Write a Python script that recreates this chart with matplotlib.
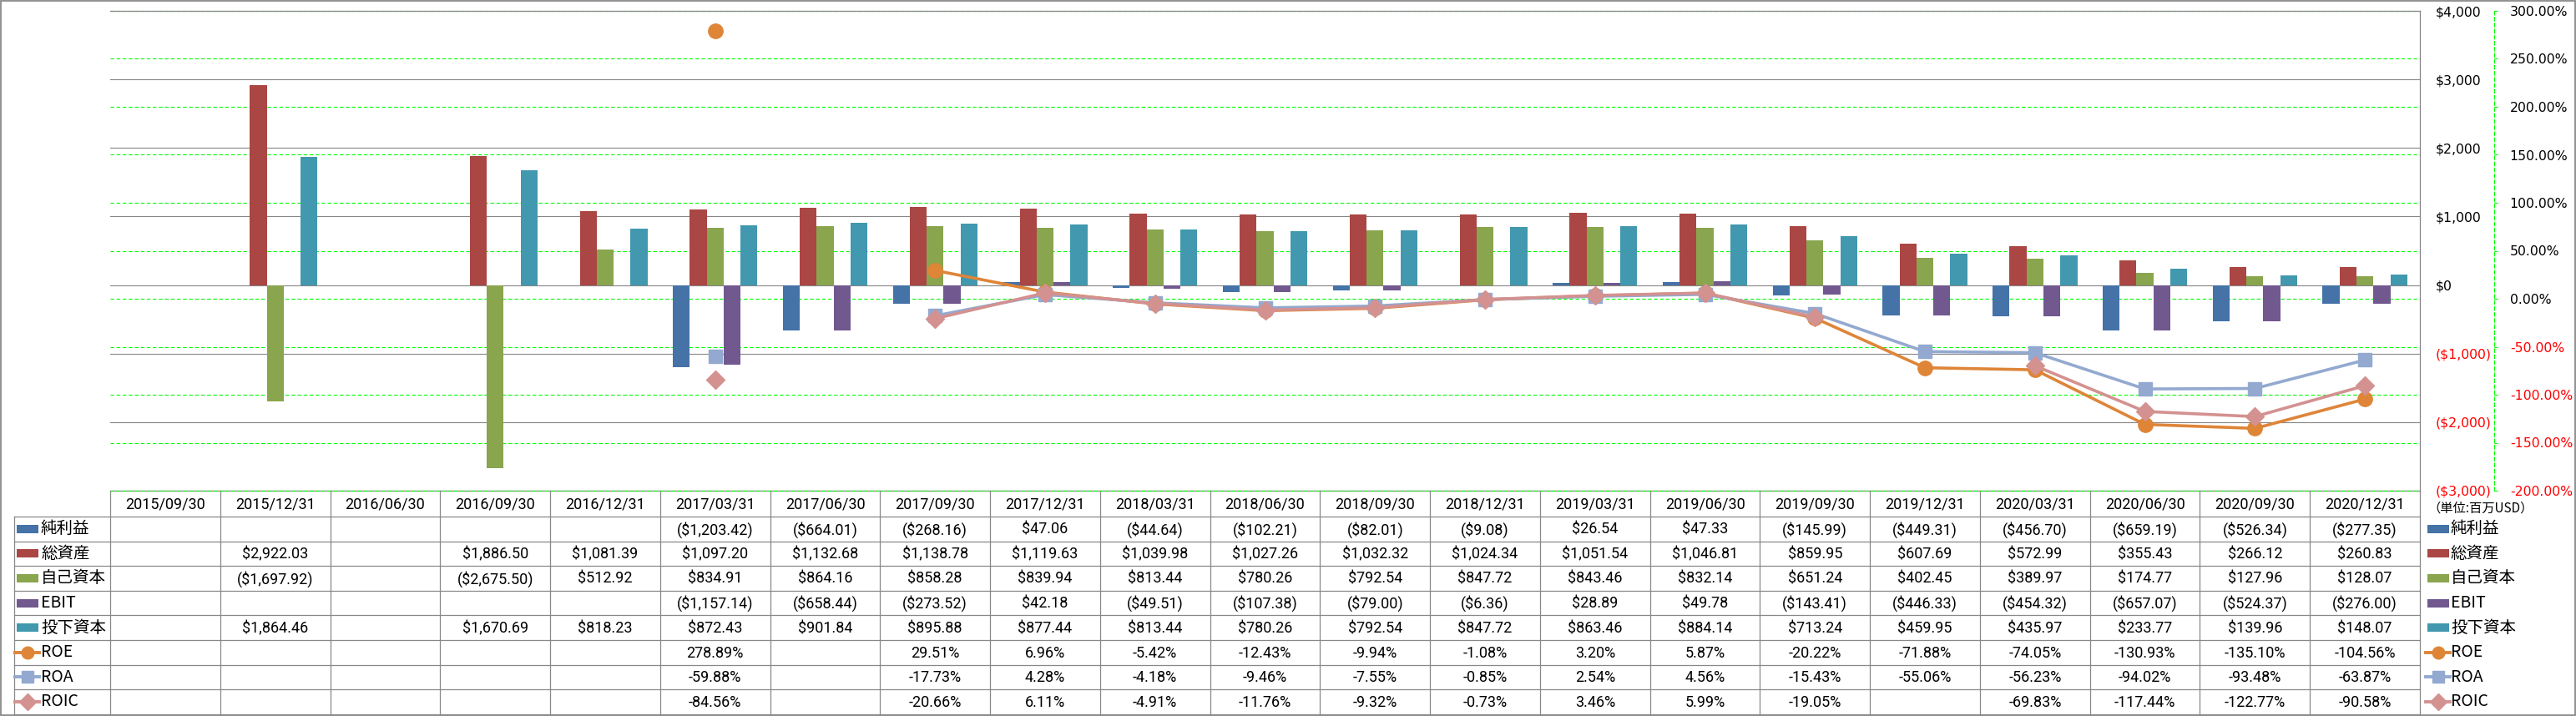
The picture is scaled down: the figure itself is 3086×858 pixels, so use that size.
import numpy as np
import matplotlib
matplotlib.use('Agg')
import matplotlib.pyplot as plt
from matplotlib.patches import Rectangle
from matplotlib.lines import Line2D

nan = np.nan

# ---------------- data ----------------
dates = ['2015/09/30', '2015/12/31', '2016/06/30', '2016/09/30', '2016/12/31',
         '2017/03/31', '2017/06/30', '2017/09/30', '2017/12/31', '2018/03/31',
         '2018/06/30', '2018/09/30', '2018/12/31', '2019/03/31', '2019/06/30',
         '2019/09/30', '2019/12/31', '2020/03/31', '2020/06/30', '2020/09/30',
         '2020/12/31']

net_income = [nan, nan, nan, nan, nan, -1203.42, -664.01, -268.16, 47.06, -44.64,
              -102.21, -82.01, -9.08, 26.54, 47.33, -145.99, -449.31, -456.70,
              -659.19, -526.34, -277.35]
total_assets = [nan, 2922.03, nan, 1886.50, 1081.39, 1097.20, 1132.68, 1138.78,
                1119.63, 1039.98, 1027.26, 1032.32, 1024.34, 1051.54, 1046.81,
                859.95, 607.69, 572.99, 355.43, 266.12, 260.83]
equity = [nan, -1697.92, nan, -2675.50, 512.92, 834.91, 864.16, 858.28, 839.94,
          813.44, 780.26, 792.54, 847.72, 843.46, 832.14, 651.24, 402.45, 389.97,
          174.77, 127.96, 128.07]
ebit = [nan, nan, nan, nan, nan, -1157.14, -658.44, -273.52, 42.18, -49.51,
        -107.38, -79.00, -6.36, 28.89, 49.78, -143.41, -446.33, -454.32,
        -657.07, -524.37, -276.00]
invested = [nan, 1864.46, nan, 1670.69, 818.23, 872.43, 901.84, 895.88, 877.44,
            813.44, 780.26, 792.54, 847.72, 863.46, 884.14, 713.24, 459.95,
            435.97, 233.77, 139.96, 148.07]

roe = [nan, nan, nan, nan, nan, 278.89, nan, 29.51, 6.96, -5.42, -12.43, -9.94,
       -1.08, 3.20, 5.87, -20.22, -71.88, -74.05, -130.93, -135.10, -104.56]
roa = [nan, nan, nan, nan, nan, -59.88, nan, -17.73, 4.28, -4.18, -9.46, -7.55,
       -0.85, 2.54, 4.56, -15.43, -55.06, -56.23, -94.02, -93.48, -63.87]
roic = [nan, nan, nan, nan, nan, -84.56, nan, -20.66, 6.11, -4.91, -11.76, -9.32,
        -0.73, 3.46, 5.99, -19.05, nan, -69.83, -117.44, -122.77, -90.58]

bar_series = [('純利益', net_income, '#4572A7'),
              ('総資産', total_assets, '#AA4643'),
              ('自己資本', equity, '#89A54E'),
              ('EBIT', ebit, '#71588F'),
              ('投下資本', invested, '#4198AF')]
line_series = [('ROE', roe, '#DE8538', 'o', 12.5),
               ('ROA', roa, '#93A9D0', 's', 11.5),
               ('ROIC', roic, '#D39190', 'D', 11)]

money_ticks = np.arange(-3000, 4001, 1000)
pct_ticks = np.arange(-200, 301, 50)


def fmt_money(v, dec=2):
    s = '${:,.{d}f}'.format(abs(v), d=dec)
    return '(' + s + ')' if v < 0 else s


# ---------------- layout (pixels) ----------------
W, H = 3086, 858
PL, PR, PT, PB = 132, 2899, 13, 588
ROW0, ROWH = 619, 29.6
GRAY = '#888888'
CJK = ['Noto Sans CJK JP', 'DejaVu Sans']
NUMF = 'Roboto'

fig = plt.figure(figsize=(W / 100, H / 100), dpi=100)
tab = fig.add_axes([0, 0, 1, 1])
tab.set_xlim(0, W)
tab.set_ylim(H, 0)
tab.axis('off')

ax = fig.add_axes([PL / W, (H - PB) / H, (PR - PL) / W, (PB - PT) / H])
ax.patch.set_visible(False)
ax2 = ax.twinx()

n = len(dates)
x = np.arange(n)
ax.set_xlim(-0.5, n - 0.5)
ax.set_ylim(-3000, 4000)
ax2.set_ylim(-200, 300)

# bars
w = 1 / 6.5
for k, (name, vals, col) in enumerate(bar_series):
    ax.bar(x + (k - 2) * w, np.array(vals, dtype=float), width=w, color=col, zorder=2)

# gridlines (both behind the bars)
ax.yaxis.grid(True, color='#868686', lw=0.8)
ax.set_axisbelow(True)
for p in pct_ticks:
    ax.plot([0, 1], [p, p], transform=ax2.get_yaxis_transform(), color='#00FF00',
            lw=0.8, ls=(0, (4, 2.5)), zorder=0.6, clip_on=False)

# lines
for name, vals, col, mk, ms in line_series:
    ax2.plot(x, np.array(vals, dtype=float), color=col, lw=2.6, marker=mk, ms=ms,
             mfc=col, mec=col, zorder=3)

# axes styling
ax.set_xticks([])
ax.set_yticks(money_ticks, [fmt_money(v, 0) for v in money_ticks])
ax.yaxis.tick_right()
ax.tick_params(axis='y', length=0, pad=13.7, labelsize=11.3)
for s in ['left', 'bottom']:
    ax.spines[s].set_visible(False)
for s in ['top', 'right']:
    ax.spines[s].set_color('#868686')
    ax.spines[s].set_linewidth(0.9)

ax2.set_xticks([])
ax2.set_yticks(pct_ticks, ['{:.2f}%'.format(v) for v in pct_ticks])
for s in ['left', 'bottom', 'top']:
    ax2.spines[s].set_visible(False)
ax2.spines['right'].set_position(('axes', (2988 - PL) / (PR - PL)))
ax2.spines['right'].set_color('#00FF00')
ax2.spines['right'].set_linestyle((0, (4, 2.5)))
ax2.spines['right'].set_linewidth(0.8)
ax2.tick_params(axis='y', direction='out', length=3, width=0.8, color='#00FF00',
                pad=10.5, labelsize=11.3)

for lbl, v in zip(ax.get_yticklabels(), money_ticks):
    lbl.set_color('red' if v < 0 else 'black')
for lbl, v in zip(ax2.get_yticklabels(), pct_ticks):
    lbl.set_color('red' if v < 0 else 'black')

# ---------------- data table ----------------
colw = (PR - PL) / n
col_edges = [PL + j * colw for j in range(n + 1)]
row_edges = [ROW0 + i * ROWH for i in range(9)]
lk = dict(color=GRAY, lw=0.9)

tab.plot([PL, PR], [PB, PB], **lk)
for yy in row_edges:
    tab.plot([17, PR], [yy, yy], **lk)
for xx in col_edges:
    tab.plot([xx, xx], [PB, row_edges[-1]], **lk)
tab.plot([17, 17], [ROW0, row_edges[-1]], **lk)

for j, d in enumerate(dates):
    tab.text(col_edges[j] + colw / 2, (PB + ROW0) / 2 + 1, d, ha='center',
             va='center', fontsize=13, family=NUMF)

rows = []
for name, vals, col in bar_series:
    rows.append((name, ['' if np.isnan(v) else fmt_money(v) for v in vals], col, None))
for name, vals, col, mk, ms in line_series:
    rows.append((name, ['' if np.isnan(v) else '{:.2f}%'.format(v) for v in vals], col, mk))


def swatch(x0, yc, col, mk):
    if mk is None:
        tab.add_patch(Rectangle((x0, yc - 5), 26, 10, color=col, lw=0))
    else:
        tab.add_line(Line2D([x0 - 2, x0 + 27], [yc, yc], color=col, lw=2.8))
        tab.add_line(Line2D([x0 + 12.5], [yc], marker=mk, ms=10.5 if mk != 'D' else 10,
                            color=col, mec=col))


for i, (name, texts, col, mk) in enumerate(rows):
    yc = row_edges[i] + ROWH / 2
    swatch(20, yc, col, mk)
    tab.text(49, yc, name, ha='left', va='center', fontsize=14, family=CJK)
    for j, t in enumerate(texts):
        if t:
            tab.text(col_edges[j] + colw / 2, yc + 1, t, ha='center', va='center',
                     fontsize=13, family=NUMF)
    # right-hand legend
    swatch(2908, yc, col, mk)
    tab.text(2936, yc, name, ha='left', va='center', fontsize=14, family=CJK)

tab.text(2908, 609, '（単位:百万USD）', ha='left', va='center', fontsize=11, family=CJK)

tab.add_patch(Rectangle((0.75, 0.75), W - 1.5, H - 1.5, fill=False, ec=GRAY, lw=1.3))

fig.savefig('out.png', dpi=100, facecolor='white')
